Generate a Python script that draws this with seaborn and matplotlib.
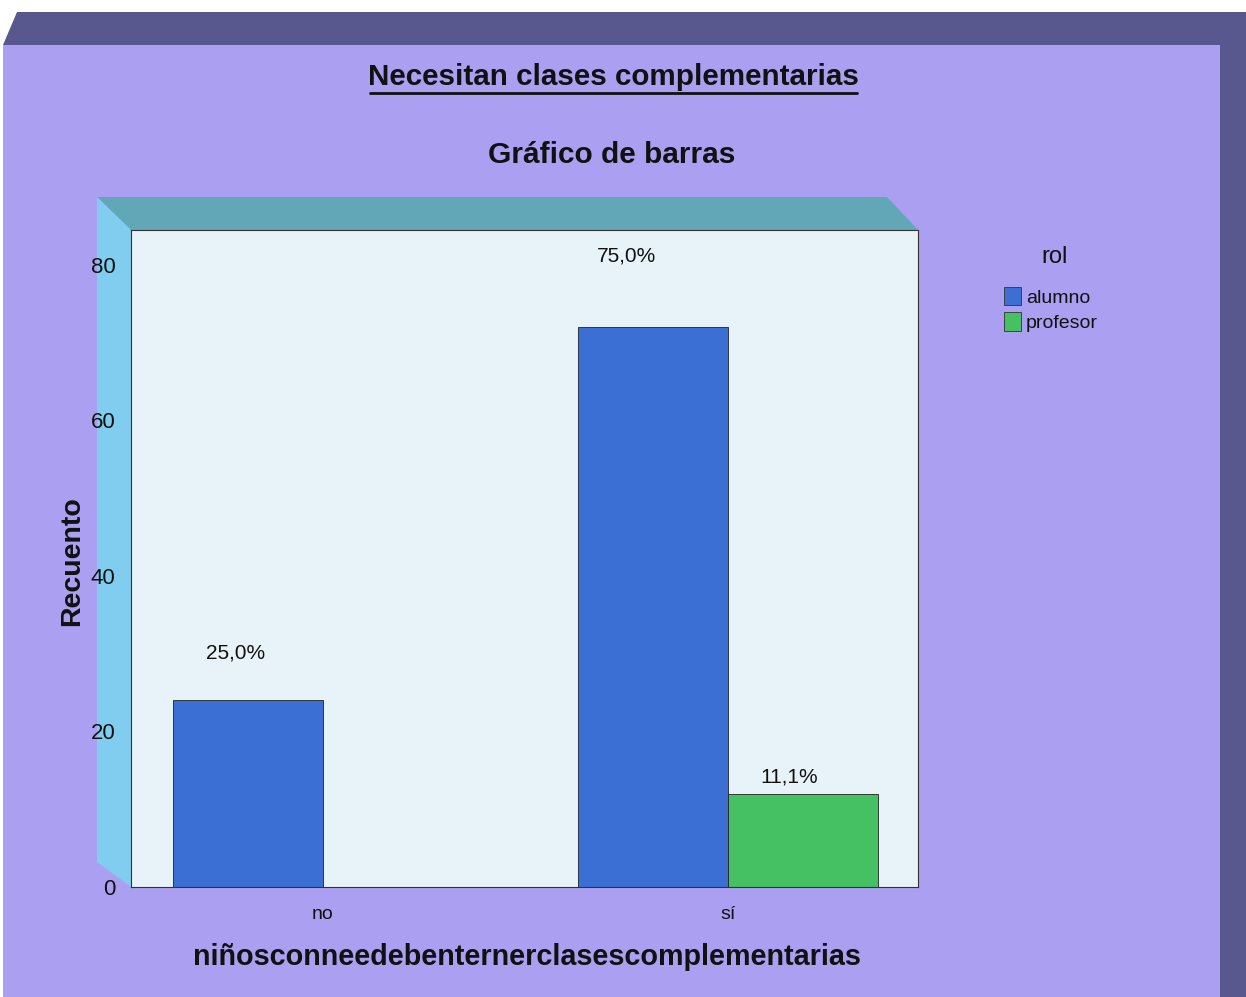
import matplotlib
matplotlib.use("Agg")
import matplotlib.pyplot as plt
from matplotlib.patches import Polygon, Patch
import seaborn as sns
import pandas as pd

# ---- data ----
categories = ["no", "sí"]
roles = ["alumno", "profesor"]
alumno_counts = [24, 72]
profesor_counts = [0, 12]
pct_labels = {("no", "alumno"): "25,0%", ("sí", "alumno"): "75,0%", ("sí", "profesor"): "11,1%"}
yticks = [0, 20, 40, 60, 80]

title = "Necesitan clases complementarias"
subtitle = "Gráfico de barras"
xlabel = "niñosconneedebenternerclasescomplementarias"
ylabel = "Recuento"
legend_title = "rol"

df = pd.DataFrame({
    "cat": categories * 2,
    "rol": [roles[0]] * 2 + [roles[1]] * 2,
    "count": alumno_counts + profesor_counts,
})

sns.set_style("white")
plt.rcParams["font.family"] = ["Liberation Sans", "DejaVu Sans"]

W, H = 1246, 997
fig = plt.figure(figsize=(W / 100, H / 100), dpi=100, facecolor="white")

def P(pts):
    return [(x / W, 1 - y / H) for x, y in pts]

# outer 3D frame
fig.patches.append(Polygon(P([(3, 45), (17, 12), (1246, 12), (1246, 997), (1220, 997), (1220, 45)]),
                           closed=True, transform=fig.transFigure, facecolor="#58588e", edgecolor="none", zorder=-3))
fig.patches.append(Polygon(P([(3, 45), (1220, 45), (1220, 997), (3, 997)]),
                           closed=True, transform=fig.transFigure, facecolor="#aa9ff0", edgecolor="none", zorder=-2))
# 3D walls of the plot area
fig.patches.append(Polygon(P([(97, 197), (887, 197), (918, 230), (131, 230)]),
                           closed=True, transform=fig.transFigure, facecolor="#62a7b8", edgecolor="none", zorder=-1))
fig.patches.append(Polygon(P([(97, 197), (131, 230), (131, 887), (97, 862)]),
                           closed=True, transform=fig.transFigure, facecolor="#80cdef", edgecolor="none", zorder=-1))

ax = fig.add_axes([131 / W, 1 - 887 / H, (918 - 131) / W, (887 - 230) / H])
ax.set_zorder(2)
ax.set_facecolor("#e7f3f8")

palette = {"alumno": "#3b6fd3", "profesor": "#45c062"}
sns.barplot(data=df, x="cat", y="count", hue="rol", order=categories, hue_order=roles,
            palette=palette, width=0.74, saturation=1, edgecolor="#222222", linewidth=0.6,
            ax=ax, legend=False)

ax.set_xlim(-0.474, 1.469)
ax.set_ylim(0, 84.5)
ax.set_yticks(yticks)
ax.set_yticklabels([str(t) for t in yticks], fontsize=16, color="#111111")
ax.set_xticks(range(len(categories)))
ax.set_xticklabels(categories, fontsize=14, color="#111111")
ax.tick_params(axis="y", direction="out", length=10, width=0.9, color="#333333", pad=1)
ax.tick_params(axis="x", direction="out", length=8, width=0.8, color="#444444", pad=6)
for s in ax.spines.values():
    s.set_visible(True)
    s.set_color("#333333")
    s.set_linewidth(0.8)
ax.set_xlabel("")
ax.set_ylabel("")

# percentage labels (offsets in points relative to bar top center)
label_offsets = {("no", "alumno"): (-9, 34), ("sí", "alumno"): (-19, 51), ("sí", "profesor"): (-10, 12)}
for ci, cat in enumerate(categories):
    for ri, rol in enumerate(roles):
        key = (cat, rol)
        if key not in pct_labels:
            continue
        bar = ax.containers[ri][ci]
        xc = bar.get_x() + bar.get_width() / 2
        yt = bar.get_height()
        ax.annotate(pct_labels[key], (xc, yt), xytext=label_offsets[key], textcoords="offset points",
                    ha="center", va="center", fontsize=15, color="#111111")

fig.text(613 / W, 1 - 77 / H, title, ha="center", va="center", fontsize=21.3, fontweight="bold", color="#111111")
fig.lines.append(plt.Line2D([370 / W, 857 / W], [1 - 93 / H, 1 - 93 / H], transform=fig.transFigure,
                            color="#111111", linewidth=2))
fig.text(612 / W, 1 - 155 / H, subtitle, ha="center", va="center", fontsize=21.5, fontweight="bold", color="#111111")
fig.text(527 / W, 1 - 957 / H, xlabel, ha="center", va="center", fontsize=20.7, fontweight="bold", color="#111111")
fig.text(72 / W, 1 - 561 / H, ylabel, ha="center", va="center", rotation=90, fontsize=20.5, fontweight="bold", color="#111111")

fig.text(1055 / W, 1 - 257 / H, legend_title, ha="center", va="center", fontsize=17, color="#111111")
handles = [Patch(facecolor=palette[r], edgecolor="#333333", linewidth=0.6) for r in roles]
leg = fig.legend(handles, roles, loc="upper left",
                 bbox_to_anchor=(990 / W, 1 - 273 / H), frameon=False, fontsize=14,
                 handlelength=0.9, handleheight=1.1, handletextpad=0.25, labelspacing=0.3, borderpad=0.2)
for t in leg.get_texts():
    t.set_color("#111111")

fig.savefig("out.png", dpi=100, facecolor=fig.get_facecolor())
